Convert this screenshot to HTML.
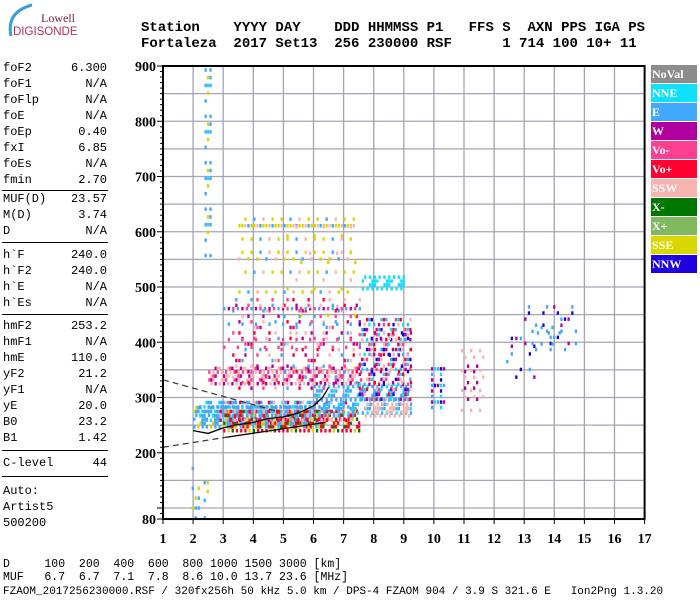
<!DOCTYPE html>
<html><head><meta charset="utf-8">
<style>
body{margin:0;background:#fff;width:700px;height:600px;overflow:hidden;position:relative;font-family:"Liberation Mono",monospace;}
.mono{position:absolute;font-family:"Liberation Mono",monospace;white-space:pre;color:#000;}
#params{position:absolute;left:0;top:0;}
.row{position:absolute;left:3px;width:104px;font-size:12px;height:14px;line-height:14px;}
.row .v{position:absolute;right:0;top:0;}
.sep{position:absolute;left:2px;width:106px;height:1px;background:#000;}
.leg{position:absolute;left:651px;width:46px;height:18px;color:#fff;font:bold 12px "Liberation Serif",serif;line-height:18px;padding-left:1px;box-sizing:border-box;}
</style></head><body>
<svg width="110" height="45" style="position:absolute;left:0;top:0">
<path d="M11,36 Q6,12 32,5" stroke="#3aa0d8" stroke-width="3" fill="none"/>
<text x="41" y="22" font-family="Liberation Serif,serif" font-size="12" fill="#7a2040">Lowell</text>
<text x="13" y="35" font-family="Liberation Sans,sans-serif" font-size="11.5" fill="#b03060">DIGISONDE</text>
</svg>
<div class="mono" style="left:141px;top:20px;font-size:14px;font-weight:bold;">Station    YYYY DAY    DDD HHMMSS P1   FFS S  AXN PPS IGA PS</div>
<div class="mono" style="left:141px;top:36px;font-size:14px;font-weight:bold;">Fortaleza  2017 Set13  256 230000 RSF      1 714 100 10+ 11</div>
<div id="params"></div>
<div id="legend"></div>
<svg id="chart" width="700" height="600" style="position:absolute;left:0;top:0"></svg>
<div class="mono" style="left:3px;top:558px;font-size:11.5px;">D     100  200  400  600  800 1000 1500 3000 [km]</div>
<div class="mono" style="left:3px;top:571px;font-size:11.5px;">MUF   6.7  6.7  7.1  7.8  8.6 10.0 13.7 23.6 [MHz]</div>
<div class="mono" style="left:3px;top:586px;font-size:11px;">FZAOM_2017256230000.RSF / 320fx256h 50 kHz 5.0 km / DPS-4 FZAOM 904 / 3.9 S 321.6 E   Ion2Png 1.3.20</div>
<script>
// ---- parameter panel data ----
const paramNames=["foF2","foF1","foFlp","foE","foEp","fxI","foEs","fmin","MUF(D)","M(D)","D","h`F","h`F2","h`E","h`Es","hmF2","hmF1","hmE","yF2","yF1","yE","B0","B1","C-level","Auto:","Artist5","500200"];
const paramValues=["6.300","N/A","N/A","N/A","0.40","6.85","N/A","2.70","23.57","3.74","N/A","240.0","240.0","N/A","N/A","253.2","N/A","110.0","21.2","N/A","20.0","23.2","1.42","44","","",""];
const paramTops=[61,77,93,109,125,141,157,173,192,208,224,248,264,280,296,319,335,351,367,383,399,415,431,456,484,500,516];
const sepTops=[190,242,314,450,476];
const P=document.getElementById('params');
paramNames.forEach((n,i)=>{const d=document.createElement('div');d.className='row';d.style.top=paramTops[i]+'px';


d.innerHTML=n+'<span class="v">'+paramValues[i]+'</span>';P.appendChild(d);});
sepTops.forEach(t=>{const s=document.createElement('div');s.className='sep';s.style.top=t+'px';


P.appendChild(s);});
// ---- legend ----
const legendNames=["NoVal","NNE","E","W","Vo-","Vo+","SSW","X-","X+","SSE","NNW"];
const legendColors=["#8c8c8c","#10e0ff","#40a8ff","#b000a0","#ff4090","#ff0030","#f8b4b0","#007800","#80b860","#d8d800","#2000e0"];
const L=document.getElementById('legend');
legendNames.forEach((n,i)=>{const d=document.createElement('div');d.className='leg';d.style.top=(65+i*19)+'px';d.style.background=legendColors[i];d.textContent=n;


L.appendChild(d);});
const C={};legendNames.forEach((n,i)=>C[n]=legendColors[i]);
// ---- chart data ----
const xTicks=[1,2,3,4,5,6,7,8,9,10,11,12,13,14,15,16,17];
const yTicks=[900,800,700,600,500,400,300,200,80];
// echo regions: frequency range, height range, color keys, sampling step (MHz, km), keep ratio
const blobFMin=[2.0,2.2,3.0,2.8,6.0,2.5,3.3,3.5,7.6,7.5,7.7,7.8,2.38,1.95,2.35,9.9,10.8,10.9,12.4,13.0,13.3,3.0,4.8];
const blobFMax=[6.2,6.0,7.5,7.3,9.2,7.6,7.5,7.3,9.0,9.2,9.2,9.2,2.55,2.15,2.45,10.35,11.6,11.4,13.3,14.7,14.2,7.5,7.5];
const blobHMin=[250,262,243,262,275,328,320,470,500,300,270,330,560,85,85,285,280,300,340,390,400,380,420];
const blobHMax=[285,300,282,298,330,360,480,630,525,450,292,430,900,190,150,360,400,360,420,470,440,470,640];
const blobColors=[["E","E","SSE"],["E","E","NNE"],["Vo+","Vo+","SSE","Vo+","X-"],["E","Vo+","E","SSW"],["E","E","NNE","E"],["SSW","SSW","Vo-","W"],["Vo-","W","Vo+","E","SSW"],["SSE","SSE","SSW","E"],["NNE","NNE"],["Vo+","E","NNW","W","SSW","Vo-","NNE"],["SSW","SSW"],["W","NNW","Vo+","SSW"],["E","NNE","E","SSE"],["E","E","SSE"],["E","SSE"],["E","NNW","W","NNE"],["SSW","SSW","E"],["NNW","E","W"],["W","E","NNW"],["E","NNW","W","E"],["E","E"],["E","W","Vo-"],["SSE","SSW","E"]];
const blobStepF=[0.07,0.07,0.07,0.08,0.08,0.07,0.1,0.1,0.08,0.08,0.08,0.1,0.08,0.1,0.1,0.1,0.1,0.1,0.15,0.12,0.12,0.15,0.15];
const blobStepH=[7,8,7,8,8,7,10,12,7,9,7,10,14,18,16,10,12,10,14,11,10,14,16];
const blobKeep=[2,2,2,2,2,2,4,5,2,2,2,3,2,2,2,3,3,3,4,4,3,5,6];
// trace lines (MHz, km)
const upperDashF=[1,4.8],upperDashH=[332,275];
const lowerDashF=[1,3.1],lowerDashH=[210,228];
const lowerSolidF=[3.1,6.4],lowerSolidH=[228,255];
const traceF=[2.0,2.5,3.0,3.4,4.0,4.5,5.0,5.5,6.0,6.3,6.5];
const traceH=[240,235,245,250,255,262,265,272,285,300,318];
// ---- drawing ----
const X0=163,XS=30.1,Y0=66,YS=0.5525;
const xS=f=>X0+(f-1)*XS, yS=h=>Y0+(900-h)*YS;
const svg=document.getElementById('chart');const NS='http://www.w3.org/2000/svg';
function el(t,a){const e=document.createElementNS(NS,t);for(const k in a)e.setAttribute(k,a[k]);svg.appendChild(e);return e;}
// grid
for(let h=100;h<=850;h+=50){const g=el('line',{x1:xS(1),x2:xS(17),y1:yS(h),y2:yS(h),stroke:'#a4a4b4','stroke-width':1.3});

}
xTicks.slice(1,-1).forEach(f=>{const g=el('line',{x1:xS(f),x2:xS(f),y1:yS(900),y2:yS(80),stroke:'#a4a4b4','stroke-width':1.3});

});
// blobs
blobFMin.forEach((fm,b)=>{const cols=blobColors[b];const k=blobKeep[b];let i=0;
for(let f=fm;f<=blobFMax[b]+1e-9;f+=blobStepF[b],i++){let j=0;
for(let h=blobHMin[b];h<=blobHMax[b];h+=blobStepH[b],j++){
if(((i*5+j*3+b*7+((i*j)%3))%k)!==0)continue;
const r=el('rect',{x:xS(f).toFixed(1),y:yS(h).toFixed(1),width:2.3,height:3.5,fill:C[cols[(i+2*j)%cols.length]]});

}}});
function pl(F,H,attrs,name){const p=el('polyline',Object.assign({points:F.map((f,i)=>xS(f)+','+yS(H[i])).join(' '),fill:'none',stroke:'#000'},attrs));

}
pl(upperDashF,upperDashH,{'stroke-dasharray':'6,4','stroke-width':1.2,stroke:'#333'},'upper-dashed-profile');
pl(lowerDashF,lowerDashH,{'stroke-dasharray':'6,4','stroke-width':1.2,stroke:'#333'},'lower-dashed-profile');
pl(lowerSolidF,lowerSolidH,{'stroke-width':1.3},'lower-solid-profile');
pl(traceF,traceH,{'stroke-width':1.3},'hf-trace');
// frame
const fr=el('rect',{x:xS(1),y:yS(900),width:xS(17)-xS(1),height:yS(80)-yS(900),fill:'none',stroke:'#000','stroke-width':2});


for(let h=80;h<=900;h+=10){const major=h%100===0||h===80;const t=el('line',{x1:xS(1)-(major?6:3),x2:xS(1),y1:yS(h),y2:yS(h),stroke:'#000','stroke-width':1});

}
yTicks.forEach(h=>{const t=el('text',{x:xS(1)-7,y:yS(h)+5,'text-anchor':'end','font-family':'Liberation Serif,serif','font-weight':'bold','font-size':14});t.textContent=h;

});
xTicks.forEach(f=>{const tk=el('line',{x1:xS(f),x2:xS(f),y1:yS(80),y2:yS(80)+5,stroke:'#000'});


const t=el('text',{x:xS(f),y:543,'text-anchor':'middle','font-family':'Liberation Serif,serif','font-weight':'bold','font-size':14});t.textContent=f;

});
</script>
</body></html>
